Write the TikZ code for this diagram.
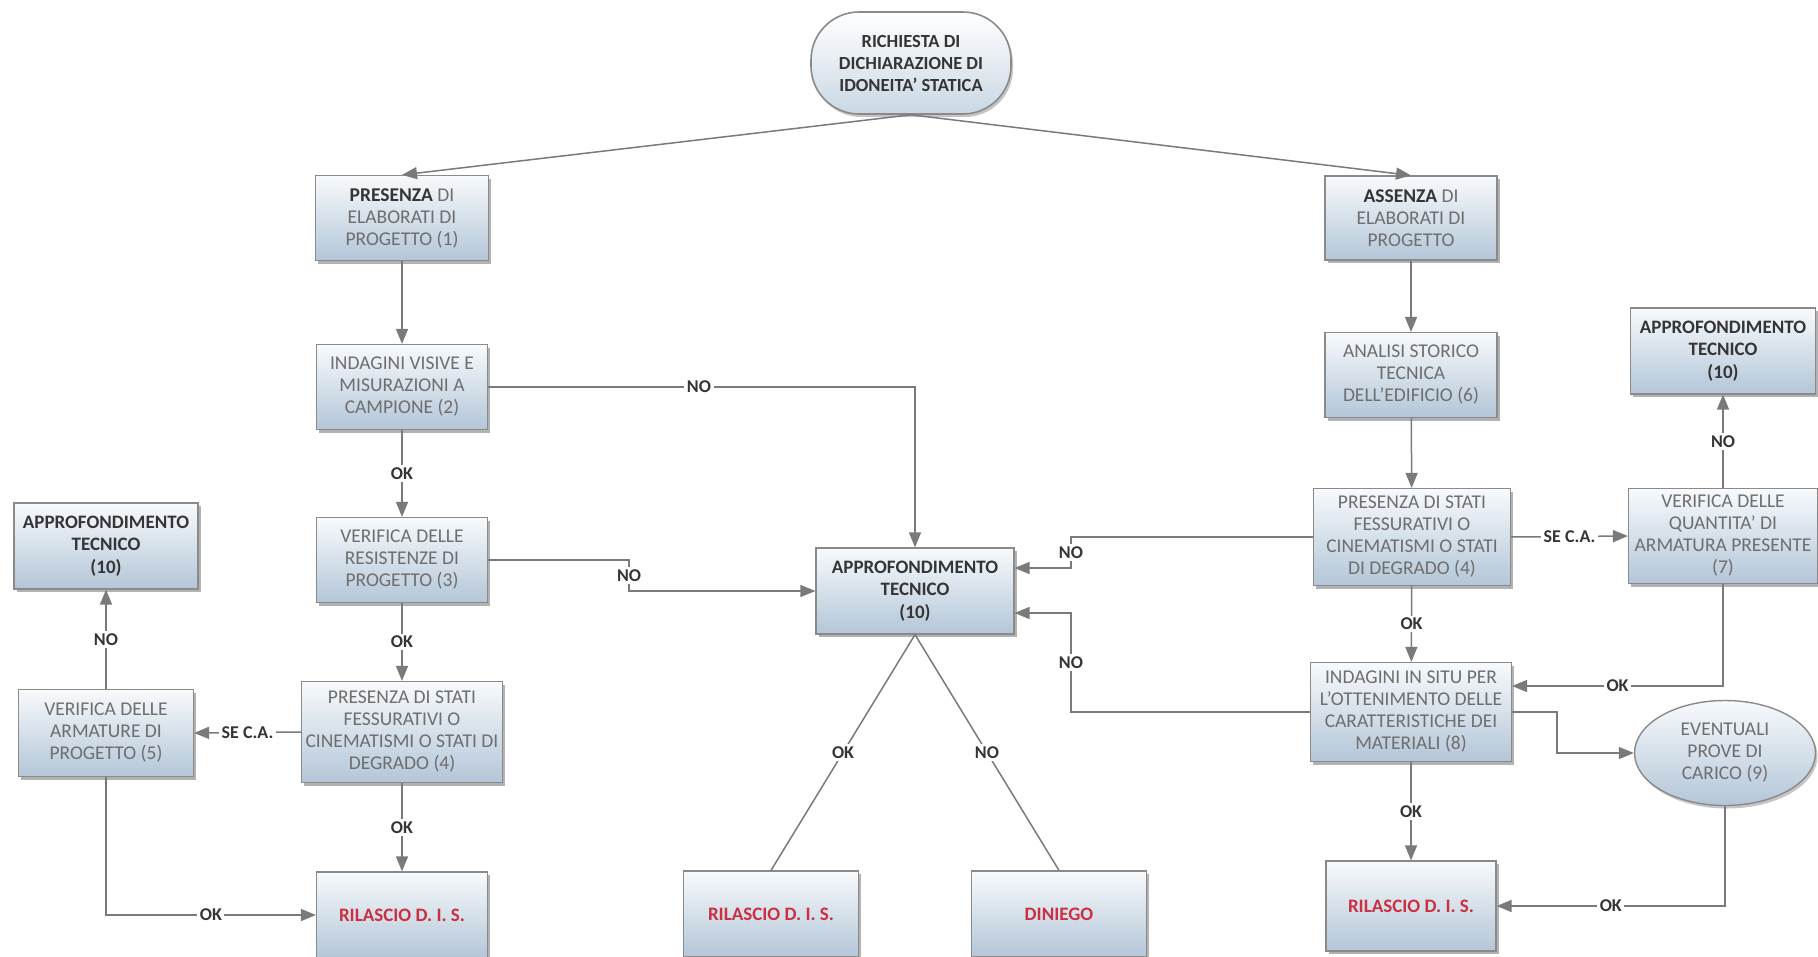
\documentclass[tikz,border=0pt]{standalone}
\usepackage{fontspec}
\setmainfont{Carlito}
\usetikzlibrary{arrows.meta,shadows,shapes.geometric,calc}
\definecolor{boxtop}{HTML}{F8FAFC}
\definecolor{boxbot}{HTML}{B3C6D8}
\definecolor{edgec}{HTML}{8A8A8A}
\definecolor{txt}{HTML}{6E6E6E}
\definecolor{darkt}{HTML}{353535}
\definecolor{redt}{HTML}{CC3040}
\definecolor{linec}{HTML}{7A7A7A}
\begin{document}
\begin{tikzpicture}[x=1pt,y=-1pt,
  box/.style={draw=edgec, line width=1.2pt, top color=boxtop, bottom color=boxbot,
    drop shadow={shadow xshift=2.5pt, shadow yshift=-3pt, fill=black!60, opacity=0.5},
    align=center, text=txt, font=\fontsize{19.5}{22}\selectfont, inner sep=2pt},
  title/.style={box, text=darkt, font=\bfseries\fontsize{19}{22.5}\selectfont},
  result/.style={box, text=redt, font=\bfseries\fontsize{19}{22}\selectfont},
  pill/.style={draw=edgec, line width=1.6pt, top color=white, bottom color=boxbot!70,
    rounded corners=48pt, minimum width=200pt, minimum height=102pt,
    drop shadow={shadow xshift=2pt, shadow yshift=-3pt, fill=black!50, opacity=0.45},
    align=center, text=darkt, font=\bfseries\fontsize{18.5}{22}\selectfont},
  oval/.style={ellipse, draw=edgec, line width=1.4pt, top color=boxtop, bottom color=boxbot,
    drop shadow={shadow xshift=2pt, shadow yshift=-3pt, fill=black!50, opacity=0.45},
    minimum width=181pt, minimum height=105pt, inner sep=0pt,
    align=center, text=txt, font=\fontsize{19.5}{22}\selectfont},
  arr/.style={draw=linec, line width=1.5pt, -{Triangle[length=15pt,width=12pt]}},
  ln/.style={draw=linec, line width=1.5pt},
  lab/.style={fill=white, inner sep=2.5pt, text=darkt, font=\bfseries\fontsize{18}{20}\selectfont}
]
\useasboundingbox[fill=white] (0,0) rectangle (1818,956);

% nodes
\node[pill] (pill) at (911,63) {RICHIESTA DI\\DICHIARAZIONE DI\\IDONEITA’ STATICA};

\node[box, minimum width=173pt, minimum height=85pt] (pres) at (402,218)
  {{\bfseries\color{darkt}PRESENZA} DI\\ELABORATI DI\\PROGETTO (1)};
\node[box, minimum width=171pt, minimum height=85pt] (vis) at (402,387)
  {INDAGINI VISIVE E\\MISURAZIONI A\\CAMPIONE (2)};
\node[box, minimum width=171pt, minimum height=85pt] (res) at (402,560)
  {VERIFICA DELLE\\RESISTENZE DI\\PROGETTO (3)};
\node[box, minimum width=201pt, minimum height=101pt] (stL) at (402,732)
  {PRESENZA DI STATI\\FESSURATIVI O\\CINEMATISMI O STATI DI\\DEGRADO (4)};
\node[result, minimum width=171pt, minimum height=86pt] (rilL) at (402,915) {RILASCIO D. I. S.};
\node[title, minimum width=184pt, minimum height=86pt] (appL) at (106,546)
  {APPROFONDIMENTO\\TECNICO\\(10)};
\node[box, minimum width=175pt, minimum height=87pt] (arm) at (106,733)
  {VERIFICA DELLE\\ARMATURE DI\\PROGETTO (5)};

\node[title, minimum width=198pt, minimum height=86pt] (appC) at (915,591)
  {APPROFONDIMENTO\\TECNICO\\(10)};
\node[result, minimum width=175pt, minimum height=86pt] (rilM) at (771,914) {RILASCIO D. I. S.};
\node[result, minimum width=175pt, minimum height=86pt] (din) at (1059,914) {DINIEGO};

\node[box, minimum width=172pt, minimum height=84pt] (ass) at (1411,218)
  {{\bfseries\color{darkt}ASSENZA} DI\\ELABORATI DI\\PROGETTO};
\node[box, minimum width=172pt, minimum height=85pt] (ana) at (1411,375)
  {ANALISI STORICO\\TECNICA\\DELL’EDIFICIO (6)};
\node[box, minimum width=197pt, minimum height=97pt] (stR) at (1412,537)
  {PRESENZA DI STATI\\FESSURATIVI O\\CINEMATISMI O STATI\\DI DEGRADO (4)};
\node[box, minimum width=201pt, minimum height=99pt] (situ) at (1411,712)
  {INDAGINI IN SITU PER\\L’OTTENIMENTO DELLE\\CARATTERISTICHE DEI\\MATERIALI (8)};
\node[result, minimum width=170pt, minimum height=90pt] (rilR) at (1411,906) {RILASCIO D. I. S.};
\node[title, minimum width=185pt, minimum height=86pt] (appR) at (1723,351)
  {APPROFONDIMENTO\\TECNICO\\(10)};
\node[box, minimum width=189pt, minimum height=95pt] (qua) at (1723,536)
  {VERIFICA DELLE\\QUANTITA’ DI\\ARMATURA PRESENTE\\(7)};
\node[oval] (ev) at (1725,753) {EVENTUALI\\PROVE DI\\CARICO (9)};

% connectors - left branch
\draw[arr] (pill.south) -- (pres.north);
\draw[arr] (pill.south) -- (ass.north);
\draw[arr] (pres) -- (vis);
\draw[arr] (vis.east) -| node[lab, pos=0.247] {NO} (appC.north);
\draw[arr] (vis) -- node[lab] {OK} (res);
\draw[arr] (res.east) -- ++(141,0) coordinate (b1) |- node[lab, pos=0.25] {NO} (appC.west);
\draw[arr] (res) -- node[lab] {OK} (stL);
\draw[arr] (stL) -- node[lab] {OK} (rilL);
\draw[arr] (stL.west) -- node[lab] {SE C.A.} (arm.east);
\draw[arr] (arm) -- node[lab] {NO} (appL);
\draw[arr] (arm.south) |- node[lab, pos=0.75] {OK} (rilL.west);

% center
\draw[ln] (appC.south) -- node[lab] {OK} (rilM.north);
\draw[ln] (appC.south) -- node[lab] {NO} (din.north);

% right branch
\draw[arr] (ass) -- (ana);
\draw[arr] (ana) -- (stR);
\draw[arr] (stR.west) -- ++(-242,0) coordinate (c1) |- node[lab, pos=0.25] {NO} ([yshift=23pt]appC.east);
\draw[arr] (situ.west) -- ++(-239,0) coordinate (c2) |- node[lab, pos=0.25] {NO} ([yshift=-22pt]appC.east);
\draw[arr] (stR) -- node[lab] {OK} (situ);
\draw[arr] (stR.east) -- node[lab] {SE C.A.} (qua.west);
\draw[arr] (qua) -- node[lab] {NO} (appR);
\draw[arr] (qua.south) |- node[lab, pos=0.75] {OK} ([yshift=26pt]situ.east);
\draw[arr] (situ.east) -- ++(45,0) coordinate (c3) |- (ev.west);
\draw[arr] (situ) -- node[lab] {OK} (rilR);
\draw[arr] (ev.south) |- node[lab, pos=0.75] {OK} (rilR.east);
\end{tikzpicture}
\end{document}
